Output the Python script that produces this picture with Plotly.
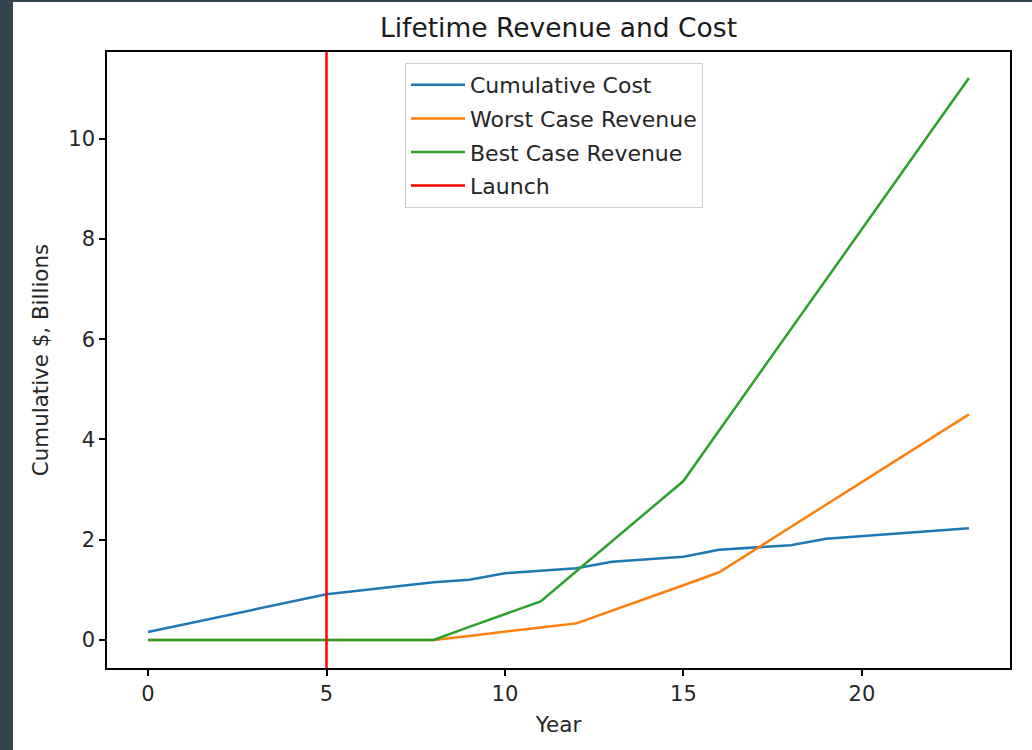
import plotly.graph_objects as go

years = list(range(0, 24))
cumulative_cost = [0.16, 0.31, 0.46, 0.61, 0.76, 0.91, 0.99, 1.07, 1.15, 1.20,
                   1.33, 1.38, 1.43, 1.56, 1.61, 1.66, 1.80, 1.85, 1.89, 2.02,
                   2.07, 2.12, 2.17, 2.23]
worst_case_revenue = [0, 0, 0, 0, 0, 0, 0, 0, 0, 0.08,
                      0.17, 0.25, 0.33, 0.58, 0.84, 1.09, 1.35, 1.80, 2.25, 2.70,
                      3.15, 3.60, 4.05, 4.50]
best_case_revenue = [0, 0, 0, 0, 0, 0, 0, 0, 0, 0.26,
                     0.51, 0.77, 1.37, 1.97, 2.57, 3.17, 4.18, 5.18, 6.19, 7.19,
                     8.20, 9.20, 10.21, 11.21]
launch_year = 5

x_range = [-1.15, 24.15]
y_range = [-0.56, 11.73]
x_ticks = [0, 5, 10, 15, 20]
y_ticks = [0, 2, 4, 6, 8, 10]

W, H = 1032, 750
L, R, T, B = 107, 22, 52, 82
pw, ph = W - L - R, H - T - B

FONT = "DejaVu Sans"
fig = go.Figure()
fig.add_trace(go.Scatter(x=years, y=cumulative_cost, mode="lines", name="Cumulative Cost",
                         line=dict(color="#1f77b4", width=2.5), legendgroup="a"))
fig.add_trace(go.Scatter(x=years, y=worst_case_revenue, mode="lines", name="Worst Case Revenue",
                         line=dict(color="#ff7f0e", width=2.5), legendgroup="b"))
fig.add_trace(go.Scatter(x=years, y=best_case_revenue, mode="lines", name="Best Case Revenue",
                         line=dict(color="#2ca02c", width=2.5), legendgroup="c"))
fig.add_trace(go.Scatter(x=[launch_year, launch_year], y=y_range, mode="lines", name="Launch",
                         line=dict(color="#ff0000", width=2.5), legendgroup="d"))

def px_x(p):
    return (p - L) / pw

def px_y(p):
    return (H - B - p) / ph

border = "#31434d"
fig.add_shape(type="rect", xref="paper", yref="paper",
              x0=px_x(0), x1=px_x(13), y0=px_y(H), y1=px_y(0),
              fillcolor=border, line=dict(width=0), layer="above")
fig.add_shape(type="rect", xref="paper", yref="paper",
              x0=px_x(0), x1=px_x(W), y0=px_y(2), y1=px_y(0),
              fillcolor=border, line=dict(width=0), layer="above")

fig.update_layout(
    width=W, height=H,
    margin=dict(l=L, r=R, t=T, b=B),
    paper_bgcolor="white", plot_bgcolor="white",
    font=dict(family=FONT, size=21, color="#262626"),
    title=dict(text="Lifetime Revenue and Cost", x=(L + pw / 2) / W, xanchor="center",
               y=1 - 28 / H, yanchor="middle", font=dict(size=26.5, color="#1a1a1a")),
    showlegend=True,
    legend=dict(x=px_x(405), y=px_y(63), xanchor="left", yanchor="top",
                bgcolor="white", bordercolor="#d0d0d0", borderwidth=1,
                tracegroupgap=2, traceorder="grouped", itemwidth=54,
                font=dict(size=22, color="#262626")),
)
fig.update_xaxes(range=x_range, tickvals=x_ticks, showgrid=False, zeroline=False,
                 showline=True, mirror=True, linecolor="black", linewidth=1.5,
                 ticks="outside", ticklen=6, tickwidth=1.5, tickcolor="black",
                 title=dict(text="Year", standoff=12, font=dict(size=21.5)))
fig.update_yaxes(range=y_range, tickvals=y_ticks, showgrid=False, zeroline=False,
                 showline=True, mirror=True, linecolor="black", linewidth=1.5,
                 ticks="outside", ticklen=6, tickwidth=1.5, tickcolor="black",
                 title=dict(text="Cumulative $, Billions", standoff=14, font=dict(size=21.4)))

fig.write_html("out.html")
